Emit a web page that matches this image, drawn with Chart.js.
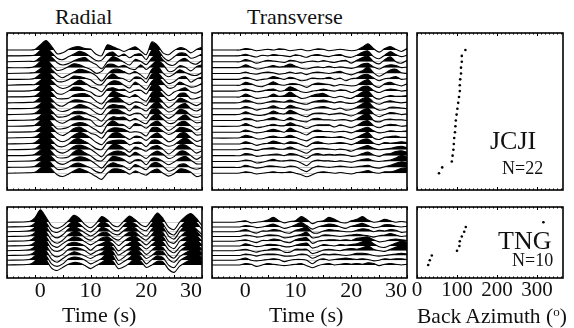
<!DOCTYPE html>
<html><head><meta charset="utf-8">
<script src="https://cdn.jsdelivr.net/npm/chart.js@4.4.1/dist/chart.umd.min.js"></script>
<style>
html,body{margin:0;padding:0;background:#fff;}
#fig{position:relative;width:574px;height:328px;overflow:hidden;font-family:'Liberation Serif','Times New Roman',serif;color:#111;}
#fig canvas{position:absolute;}
.lbl{position:absolute;line-height:1;white-space:nowrap;}
</style></head><body>
<div id="fig">
  <canvas id="r1"></canvas><canvas id="t1"></canvas><canvas id="b1"></canvas>
  <canvas id="r2"></canvas><canvas id="t2"></canvas><canvas id="b2"></canvas>
  <span class="lbl" style="left:55px;top:5.6px;font-size:22px">Radial</span>
  <span class="lbl" style="left:247px;top:5.6px;font-size:22px">Transverse</span>
  <span class="lbl" style="left:490px;top:128.2px;font-size:26px">JCJI</span>
  <span class="lbl" style="left:502px;top:158.9px;font-size:18px">N=22</span>
  <span class="lbl" style="left:498px;top:228.2px;font-size:26px">TNG</span>
  <span class="lbl" style="left:512px;top:250.9px;font-size:18px">N=10</span>
  <span class="lbl" style="left:62px;top:303.6px;font-size:22px">Time (s)</span>
  <span class="lbl" style="left:269px;top:303.6px;font-size:22px">Time (s)</span>
  <span class="lbl" style="left:417px;top:305px;font-size:21.5px">Back Azimuth (<sup style="font-size:13px;vertical-align:7px">o</sup>)</span>
</div>
<script>
// Sample times (s) shared by every trace
const TIME = [-5,-1,0,1,2,3,4,5,6,7,8,9,10,11,12,13,14,15,16,17,18,19,20,21,22,23,24,25,26,27,28,29,30];
const TIME_TICKS = [0, 10, 20, 30];
const BAZ_TICKS = [0, 100, 200, 300];

// Station JCJI, radial receiver functions (normalised to the direct P pulse)
const jcjiRadial = [
  [0,0, .05,.55,1,.4,-.4, -.3,.05,.3,.35,.15, .1,-.45,-.6,.55,.35, .1,-.15,.1,.35,-.1, -.5,.85,.5,-.3,-.5, -.05,.25,.1,-.3,.05, .3],
  [0,.03, .1,.6,1,.35,-.25, -.4,-.1,.2,.5,.3, -.1,-.5,-.45,.2,.4, -.05,.2,-.2,.15,.2, -.4,.6,.7,-.1,-.5, -.1,.3,.25,-.25,-.1, .2],
  [0,.05, .05,.5,1,.5,-.1, -.35,-.2,.1,.35,.45, 0,-.3,-.75,0,.55, .3,-.05,-.35,.25,.05, -.3,.4,.9,.2,-.3, -.35,.15,.35,-.1,-.25, .15],
  [0,0, .15,.65,.95,.3,-.3, -.2,.1,.4,.3,.05, -.2,-.6,-.4,.3,.35, .1,.25,-.1,-.2,.3, -.2,.3,.75,.35,-.4, -.3,.2,.05,-.35,.1, .3],
  [0,.06, .1,.5,1,.45,-.15, -.45,-.15,.15,.45,.35, .1,-.25,-.8,-.1,.4, .45,.2,-.05,.2,-.15, -.55,.45,.8,.05,-.35, -.05,.4,.1,-.15,-.2, .1],
  [0,.02, .12,.58,1,.42,-.2, -.25,-.05,.35,.3,.15, -.05,-.5,-.55,.15,.6, .2,.05,-.25,.25,.15, -.35,.55,.7,.1,-.45, -.25,.2,.3,-.3,.05, .25],
  [0,.07, .08,.5,1,.5,-.1, -.35,-.2,.2,.55,.25, -.15,-.35,-.7,.05,.45, .4,0,-.3,.35,-.05, -.45,.4,.85,.25,-.3, -.2,.35,.05,-.2,-.1, .2],
  [0,.02, .15,.62,.98,.35,-.25, -.3,0,.4,.4,.1, -.1,-.5,-.5,.2,.35, .15,.2,-.15,.1,.1, -.3,.6,.65,0,-.5, -.1,.15,.35,-.1,-.2, .1],
  [0,.04, .1,.55,1,.45,-.15, -.2,-.15,.2,.35,.35, .05,-.45,-.75,-.05,.6, .4,.15,-.05,.25,-.15, -.45,.45,.8,.2,-.35, -.25,.35,.4,-.2,-.15, .05],
  [0,.05, .12,.6,1,.4,-.2, -.35,0,.3,.3,.15, -.05,-.4,-.65,.1,.5, .55,.1,-.2,.1,0, -.3,.6,.7,.05,-.5, -.1,.5,.3,-.05,-.3, 0],
  [0,.03, .1,.52,1,.48,-.12, -.3,-.15,.15,.45,.3, 0,-.45,-.6,.15,.45, .35,.25,-.25,.3,.05, -.25,.35,.75,.1,-.35, -.15,.35,.55,0,-.25, .05],
  [0,.06, .14,.6,.98,.4,-.22, -.25,-.1,.3,.35,.2, -.1,-.35,-.7,.05,.55, .5,.2,-.1,.15,.1, -.4,.55,.6,0,-.4, -.05,.55,.4,-.1,-.3, -.1],
  [0,.04, .1,.5,1,.5,-.1, -.3,0,.35,.5,.2, .05,-.5,-.6,0,.4, .3,.35,-.05,.2,-.1, -.35,.4,.7,.15,-.3, -.25,.3,.6,.1,-.25, -.15],
  [0,.05, .12,.62,1,.35,-.25, -.25,-.1,.25,.4,.3, -.05,-.4,-.75,.15,.6, .25,.15,-.25,.3,.15, -.2,.3,.55,.05,-.45, -.1,.4,.5,.05,-.4, -.1],
  [0,.03, .08,.5,1,.5,-.1, -.35,-.05,.4,.55,.25, -.1,-.3,-.65,.1,.45, .45,.3,0,.05,-.05, -.4,.45,.5,.1,-.25, 0,.5,.45,.2,-.3, -.25],
  [0,.06, .1,.55,1,.45,-.15, -.4,-.15,.3,.6,.4, 0,-.45,-.7,-.05,.5, .55,.2,-.15,.2,.1, -.25,.25,.55,.05,-.4, -.15,.45,.55,.05,-.35, -.15],
  [0,.04, .12,.6,1,.4,-.2, -.3,-.05,.45,.55,.25, -.1,-.5,-.6,.15,.35, .4,.35,-.1,.15,.15, -.3,.35,.4,0,-.25, -.1,.35,.65,.25,-.2, -.3],
  [0,.05, .1,.55,1,.45,-.15, -.35,-.1,.35,.5,.35, .05,-.35,-.75,0,.55, .5,.15,-.25,.3,.1, -.15,.3,.45,.05,-.45, -.05,.5,.5,.1,-.35, -.1],
  [0,.03, .14,.58,1,.42,-.18, -.25,-.15,.4,.65,.3, 0,-.45,-.55,.05,.4, .5,.3,-.1,.35,.05, -.3,.2,.5,.15,-.3, -.1,.45,.45,0,-.4, -.05],
  [0,.06, .1,.5,1,.5,-.1, -.3,-.05,.3,.5,.4, .1,-.3,-.7,-.05,.55, .45,.2,-.2,.15,.15, -.35,.35,.35,0,-.35, -.05,.35,.55,.15,-.25, -.25],
  [0,.04, .12,.56,.98,.4,-.2, -.2,0,.35,.45,.2, -.05,-.45,-.55,.15,.5, .3,.1,-.25,.3,.05, -.25,.4,.5,.1,-.4, -.2,.3,.35,-.05,-.2, -.05],
  [0,.05, .1,.54,1,.44,-.16, -.35,-.1,.25,.5,.3, 0,-.35,-.65,0,.45, .45,.25,-.1,.25,0, -.2,.25,.45,0,-.3, -.05,.45,.4,.1,-.35, -.2]
];

// Station JCJI, transverse receiver functions (same normalisation)
const jcjiTransverse = [
  [0,0, 0,.1,.05,-.05,0, .05,0,.08,.05,-.05, 0,.05,-.05,0,.08, .05,-.05,0,.05,0, -.05,0,.2,.45,.1, -.15,.1,.25,.05,-.1, .1],
  [0,0, .02,.12,0,-.08,.05, 0,.1,.05,0,-.05, .08,0,-.1,.05,.1, 0,-.05,.05,.1,-.05, -.1,.05,.25,.35,-.05, -.2,.05,.3,.1,-.05, .05],
  [0,0, 0,.15,.05,-.1,0, .1,.05,0,-.05,.1, .05,-.08,0,.05,0, .08,0,-.05,.05,.1, -.1,.1,.3,.4,0, -.15,.15,.35,0,-.1, .1],
  [0,0, .02,.2,.05,-.1,-.05, .05,.15,.05,.1,.25, .1,-.05,-.1,0,.05, 0,.1,0,.05,0, -.05,.05,.25,.3,.05, -.1,.1,.2,.15,0, .05],
  [0,0, 0,.1,0,-.05,.05, .1,.05,-.05,0,.1, 0,.05,-.08,.05,.1, .05,0,.08,.15,0, -.1,.05,.2,.45,.05, -.2,0,.25,.3,.05, 0],
  [0,0, .02,.15,.05,-.08,0, .05,.2,.1,0,.15, .05,-.1,-.05,.1,.05, .05,.15,0,.1,-.1, .05,.1,.3,.35,.1, -.1,.05,.1,.2,0, .05],
  [0,0, 0,.2,.1,-.05,-.1, .05,.25,.05,0,.1, .1,0,-.15,.05,.15, .1,.05,-.05,.05,0, -.05,0,.25,.4,0, -.15,.1,.2,.05,-.05, .1],
  [0,0, .02,.15,.05,-.05,0, .1,.15,0,.05,.3, .15,-.05,-.1,0,.05, .15,.05,0,.1,.05, -.1,.05,.3,.35,.05, -.1,.05,.15,.1,0, .05],
  [0,0, 0,.2,.05,-.1,-.05, 0,.2,.05,.1,.35, .1,-.1,-.05,.1,.2, .25,.05,-.05,.05,-.05, -.1,.1,.35,.45,0, -.15,0,.1,.05,.05, .1],
  [0,0, .02,.2,.1,-.05,-.05, .05,.15,.1,.05,.2, .05,-.05,-.1,.05,.15, .2,.1,0,.1,0, -.05,.05,.3,.4,.05, -.1,.05,.15,.05,0, .05],
  [0,0, 0,.15,.05,-.1,0, .05,.2,.05,0,.25, .1,0,-.1,0,.1, .15,.05,-.05,.05,-.1, -.05,.1,.35,.5,.1, -.1,-.05,.1,.1,.05, 0],
  [0,0, .02,.2,.05,-.05,-.05, .05,.25,.1,.05,.3, .15,-.05,-.15,.05,.1, .1,0,.05,.1,0, -.1,.05,.3,.45,.05, -.15,0,.15,.1,0, .05],
  [0,0, 0,.15,.1,-.05,0, .1,.2,.05,0,.2, .05,-.05,-.1,.1,.15, .05,.05,0,.05,.05, -.05,.1,.35,.5,0, -.1,.05,.1,.05,.05, 0],
  [0,0, .02,.2,.05,-.1,-.05, .05,.15,.05,.05,.25, .1,0,-.15,0,.1, .1,.1,-.05,.1,0, -.1,.05,.3,.4,.05, -.1,.05,.15,.1,0, .05],
  [0,0, 0,.15,.05,-.05,0, .1,.2,.1,0,.3, .1,-.05,-.2,.05,.15, .05,.05,0,.05,.05, -.05,.1,.25,.35,.1, -.05,0,.1,.05,.05, .1],
  [0,0, .02,.2,.1,-.05,-.05, .05,.15,.05,.05,.2, .05,-.1,-.2,0,.1, .1,.05,.05,.1,0, -.1,.05,.25,.4,0, -.1,.05,.1,.15,.05, .05],
  [0,0, 0,.15,.05,-.1,0, .05,.2,.1,0,.15, .1,-.05,-.2,.05,.15, .05,0,.05,.1,.05, -.05,.1,.3,.35,.05, -.05,.1,.05,.1,.15, .1],
  [0,0, .02,.1,.05,-.05,.05, .1,.15,.05,.05,.2, .05,-.1,-.25,0,.1, .1,.05,0,.05,0, -.1,.05,.2,.3,.1, 0,.05,.1,.2,.25, .15],
  [0,0, 0,.15,.1,-.05,0, .05,.1,.1,0,.15, .1,-.05,-.2,.05,.15, .05,.1,.05,.1,.05, -.05,0,.15,.25,.05, -.05,.1,.15,.3,.35, .25],
  [0,0, .02,.1,.05,-.1,-.05, .05,.15,.05,.05,.1, .05,-.1,-.3,0,.1, .05,.05,0,.05,0, -.05,.05,.15,.2,.05, 0,.05,.1,.25,.45, .3],
  [0,0, 0,.15,.05,-.05,0, .1,.1,.05,0,.1, .05,-.15,-.3,-.05,.1, .05,0,.05,.1,.05, 0,.05,.1,.15,0, -.05,.05,.15,.3,.4, .35],
  [0,0, .02,.1,.05,-.05,0, .05,.1,.05,.05,.1, 0,-.1,-.25,-.1,.05, .1,.05,0,.05,0, -.05,.05,.1,.2,.05, 0,.1,.1,.2,.35, .4]
];

// Station TNG, radial receiver functions
const tngRadial = [
  [0,.05, .35,1,.4,-.3,-.5, -.3,.1,.55,.3,-.2, -.45,-.1,.45,.2,-.25, -.35,.1,.5,.2,-.2, -.35,.2,.75,.3,-.4, -.6,0,.45,.7,.3, -.3],
  [0,.05, .3,1,.4,-.3,-.45, -.2,.15,.5,.25,-.15, -.4,-.05,.4,.25,-.2, -.3,.15,.45,.25,-.15, -.3,.25,.7,.25,-.45, -.65,-.05,.4,.65,.35, -.2],
  [0,.08, .35,1,.45,-.25,-.5, -.25,.2,.45,.2,-.1, -.35,-.1,.35,.2,-.15, -.25,.1,.4,.3,-.1, -.35,.2,.65,.35,-.35, -.6,0,.5,.6,.2, -.25],
  [0,.05, .3,1,.4,-.3,-.55, -.3,.15,.4,.3,-.1, -.3,0,.3,.3,-.1, -.3,.05,.35,.35,-.05, -.3,.15,.6,.3,-.4, -.55,-.05,.35,.55,.4, -.1],
  [0,.06, .35,1,.4,-.3,-.5, -.2,.1,.35,.25,-.05, -.3,-.05,.25,.35,.05, -.35,0,.3,.4,.05, -.3,.1,.5,.35,-.35, -.6,0,.3,.5,.45, 0],
  [0,.05, .3,1,.45,-.25,-.45, -.25,.15,.3,.2,0, -.35,0,.2,.4,.15, -.4,-.05,.25,.45,.1, -.25,.1,.45,.3,-.3, -.55,-.1,.25,.55,.5, .05],
  [0,.07, .35,1,.45,-.25,-.5, -.3,.1,.25,.2,0, -.3,-.05,.15,.45,.25, -.35,-.1,.2,.5,.15, -.3,.05,.4,.25,-.35, -.6,-.05,.3,.5,.55, .1],
  [0,.05, .3,1,.4,-.3,-.55, -.25,.05,.3,.15,-.05, -.25,0,.2,.5,.3, -.4,-.15,.25,.55,.2, -.25,0,.35,.3,-.3, -.55,-.1,.2,.45,.6, .15],
  [0,.06, .35,1,.4,-.3,-.5, -.3,.1,.25,.2,0, -.3,-.1,.15,.55,.35, -.35,-.1,.2,.6,.25, -.3,.05,.35,.2,-.4, -.6,-.05,.25,.5,.65, .2],
  [0,.05, .3,1,.45,-.25,-.45, -.2,.05,.2,.15,-.05, -.3,-.05,.2,.5,.3, -.3,-.15,.15,.55,.3, -.2,0,.3,.25,-.35, -.6,-.1,.2,.45,.7, .25]
];

// Station TNG, transverse receiver functions
const tngTransverse = [
  [0,0, .05,.1,-.05,0,.05, .15,.35,.1,-.05,.05, .1,.4,.2,-.1,.05, .1,.35,.2,0,-.05, .1,.2,.4,.15,0, .05,.2,.1,0,.05, 0],
  [0,0, 0,.1,.05,-.05,0, .1,.2,.05,-.1,0, .15,.3,.1,-.15,0, .1,.2,.15,0,-.1, .05,.15,.25,.1,-.05, 0,.15,.15,.05,0, .05],
  [0,0, .05,.15,0,-.1,.05, .05,.15,.1,-.05,-.1, .1,.2,.35,-.05,-.1, .05,.15,.1,.05,0, 0,.1,.2,.15,0, .1,.05,.15,.1,-.05, 0],
  [0,0, 0,.1,.05,-.05,0, .1,.1,.05,-.1,-.05, .05,.15,.3,-.1,-.05, .1,.1,.05,0,.05, .1,.15,.1,.05,-.05, .05,.1,.2,.1,0, .05],
  [0,0, .05,.1,0,-.1,.05, .05,.15,.1,-.05,-.1, .1,.2,.25,-.15,0, .05,.1,.1,.05,.1, .05,.2,.25,.3,.1, -.05,0,.1,.15,.1, .05],
  [0,0, 0,.15,.05,-.05,0, .1,.1,.05,-.05,-.05, .05,.15,.2,-.15,-.05, .1,.05,0,.1,.05, .1,.15,.3,.45,.15, -.05,-.1,.05,.2,.35, .25],
  [0,0, .05,.1,0,-.1,0, .05,.15,.1,-.1,-.1, .1,.1,.1,-.2,-.1, .05,.1,.05,0,.1, .15,.1,.2,.35,.1, 0,-.05,.1,.25,.4, .3],
  [0,0, 0,.1,.05,-.05,.05, .1,.1,.05,-.05,-.05, 0,.1,.05,-.2,-.05, .1,.05,.1,.05,0, .05,.15,.15,.1,0, -.05,0,.05,.1,.15, .1],
  [0,0, .05,.15,0,-.05,0, .05,.1,.05,-.1,0, .05,.05,0,-.25,0, .1,0,.05,.1,.15, .1,.05,.1,.05,-.05, 0,.1,.05,.1,.1, .05],
  [0,0, 0,.1,.05,-.1,0, .1,.05,0,-.05,0, .05,.1,-.05,-.2,-.05, .05,.1,0,.05,.1, .05,.1,.05,.15,.1, -.05,.05,.1,.05,0, .05]
];

// Back azimuth (deg) of each trace, top to bottom
const jcjiBaz = [121, 112, 112, 110, 110, 108, 107, 107, 105, 103, 101, 99, 97, 96, 95, 93, 92, 91, 89, 87, 63, 55];
const tngBaz = [316, 122, 118, 112, 107, 106, 100, 37, 32, 28];

// Trace k sits on baseline y = -k; positive lobes are filled black
function wiggleSets(rows, gain) {
  return rows.map((amp, k) => ({
    data: TIME.map((t, i) => ({ x: t, y: -k + gain * amp[i] })),
    borderColor: '#000',
    borderWidth: 1.1,
    pointRadius: 0,
    tension: 0.25,
    fill: { target: { value: -k }, above: '#000', below: 'rgba(0,0,0,0)' }
  }));
}

function bazSet(baz) {
  return [{
    data: baz.map((b, k) => ({ x: b, y: -k })),
    pointRadius: 1.3,
    pointBackgroundColor: '#000',
    pointBorderWidth: 0,
    showLine: false
  }];
}

// Frame and inward ticks on the top and bottom edges of each panel
const framePlugin = {
  id: 'frame',
  afterDatasetsDraw(chart, args, o) {
    const { ctx, chartArea: a } = chart;
    const x = chart.scales.x;
    ctx.save();
    ctx.strokeStyle = '#000';
    ctx.lineWidth = 1;
    ctx.beginPath();
    const n = Math.round((o.max - o.min) / o.minor);
    for (let i = 0; i <= n; i++) {
      const v = o.min + i * o.minor;
      const px = Math.round(x.getPixelForValue(v)) + 0.5;
      const r = v / o.major;
      const len = Math.abs(r - Math.round(r)) < 1e-6 ? 3 : 1.5;
      ctx.moveTo(px, a.top); ctx.lineTo(px, a.top + len);
      ctx.moveTo(px, a.bottom); ctx.lineTo(px, a.bottom - len);
    }
    ctx.stroke();
    ctx.lineWidth = 1.6;
    ctx.strokeRect(a.left, a.top, a.width, a.height);
    ctx.restore();
  }
};

function panel(id, box, opt) {
  const padL = opt.padL || 4, padR = opt.padR || 4, axisH = 32;
  const cv = document.getElementById(id);
  const w = box.w + padL + padR;
  const h = box.h + 4 + (opt.labels ? axisH : 4);
  cv.width = w; cv.height = h;
  cv.style.left = (box.l - padL) + 'px';
  cv.style.top = (box.t - 4) + 'px';
  cv.style.width = w + 'px'; cv.style.height = h + 'px';
  new Chart(cv, {
    type: 'line',
    data: { datasets: opt.datasets },
    options: {
      responsive: false,
      animation: false,
      devicePixelRatio: 1,
      parsing: false,
      layout: { padding: { left: padL, right: padR, top: 4, bottom: opt.labels ? 0 : 4 } },
      plugins: { legend: { display: false }, tooltip: { enabled: false }, frame: opt.ticks },
      scales: {
        x: {
          type: 'linear', min: opt.xMin, max: opt.xMax,
          display: !!opt.labels, position: 'bottom',
          grid: { display: false, drawTicks: false }, border: { display: false },
          ticks: { color: '#111', padding: 0, align: opt.align || 'center', maxRotation: 0, autoSkip: false,
                   font: { family: 'Liberation Serif', size: opt.fontSize || 22 } },
          afterBuildTicks: s => { if (opt.labels) s.ticks = opt.labels.map(v => ({ value: v })); },
          afterFit: s => { if (opt.labels) s.height = axisH; }
        },
        y: { type: 'linear', min: opt.yMin, max: opt.yMax, display: false }
      }
    },
    plugins: [framePlugin]
  });
}

const timeTicks = { min: -5, max: 30, minor: 1, major: 5 };
const bazTicks = { min: 0, max: 360, minor: 10, major: 100 };
const topY = { yMin: -23.85, yMax: 2.9 };
const botY = { yMin: -11.75, yMax: 3.2 };

panel('r1', { l: 7, t: 33, w: 195, h: 157 }, { datasets: wiggleSets(jcjiRadial, 1.6), xMin: -5, xMax: 30, ...topY, ticks: timeTicks });
panel('t1', { l: 212, t: 33, w: 195, h: 157 }, { datasets: wiggleSets(jcjiTransverse, 2.4), xMin: -5, xMax: 30, ...topY, ticks: timeTicks });
panel('b1', { l: 417, t: 33, w: 146, h: 157 }, { datasets: bazSet(jcjiBaz), xMin: 0, xMax: 365, ...topY, ticks: bazTicks });
panel('r2', { l: 7, t: 207, w: 195, h: 71 }, { datasets: wiggleSets(tngRadial, 2.6), xMin: -5, xMax: 30, ...botY, ticks: timeTicks, labels: TIME_TICKS, align: 'inner' });
panel('t2', { l: 212, t: 207, w: 195, h: 71 }, { datasets: wiggleSets(tngTransverse, 3.0), xMin: -5, xMax: 30, ...botY, ticks: timeTicks, labels: TIME_TICKS, align: 'inner' });
panel('b2', { l: 417, t: 207, w: 146, h: 71 }, { datasets: bazSet(tngBaz), xMin: 0, xMax: 365, ...botY, ticks: bazTicks, labels: BAZ_TICKS, fontSize: 21, padL: 14 });
</script>
</body></html>
